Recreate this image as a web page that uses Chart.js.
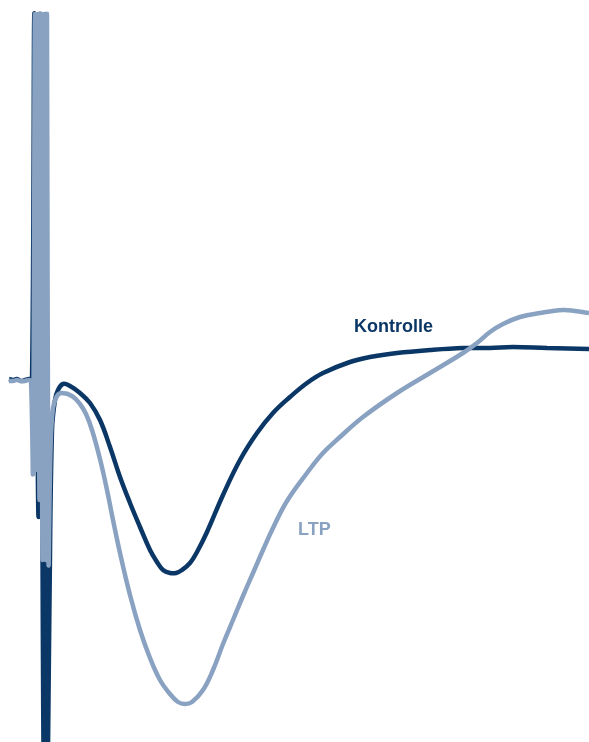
<!DOCTYPE html>
<html>
<head>
<meta charset="utf-8">
<script src="https://cdn.jsdelivr.net/npm/chart.js@4"></script>
<style>
  html, body { margin: 0; padding: 0; background: #fff; }
  #wrap { position: relative; width: 589px; height: 742px; }
  .lbl { position: absolute; font-family: 'Liberation Sans', Arial, sans-serif; font-weight: bold; font-size: 18px; line-height: 18px; white-space: nowrap; }
</style>
</head>
<body>
<div id="wrap">
  <canvas id="fieldChart"></canvas>
  <div class="lbl" style="left:354px; top:317px; color:#0b3766;">Kontrolle</div>
  <div class="lbl" style="left:298px; top:520px; color:#8aa2c2;">LTP</div>
</div>
<script>
// Field potential traces (x: sample, y: amplitude relative to baseline)
const kontrolleX = [9, 13, 17, 21, 25, 29, 32, 34.5, 38.5, 40, 44, 46.5, 47.5, 49.5, 52, 55, 58, 63, 70, 80, 90, 100, 110, 120, 130, 140, 150, 157, 163, 170, 176, 182, 190, 197, 207, 223, 240, 257, 273, 290, 307, 323, 350, 370, 397, 430, 463, 490, 513, 547, 589];
const kontrolleY = [1, 0, 1, -1, 0, 1, 0, 366, -137, 366, -400, 366, -400, -220, -50, -20, -10, -4, -6, -13, -23, -40, -67, -97, -123, -147, -170, -182, -190, -193, -193, -190, -183, -172, -152, -115, -80, -53, -33, -17, -3, 7, 18, 23, 27, 30, 32, 32, 33, 32, 31];

const ltpX = [9, 13, 17, 21, 25, 29, 31, 33, 35, 36.5, 38, 39.5, 41, 42.5, 44, 45.5, 47, 48.5, 50.5, 53, 57, 62, 72, 80, 86, 92, 100, 107, 113, 120, 130, 140, 150, 160, 170, 178, 185, 192, 203, 213, 223, 233, 243, 253, 263, 273, 287, 307, 323, 340, 363, 397, 430, 463, 477, 490, 503, 520, 540, 563, 575, 589];
const ltpY = [-1, -1, 0, -1, -1, 0, -2, -90, 366, -90, 366, -120, 366, -180, 366, -180, 366, -180, -70, -28, -16, -13, -16, -24, -34, -50, -79, -110, -140, -173, -215, -250, -278, -300, -314, -322, -324, -322, -310, -290, -264, -240, -216, -193, -170, -148, -121, -93, -73, -57, -37, -13, 7, 27, 37, 48, 56, 63, 67, 70, 69, 67];

const toPoints = (xs, ys) => xs.map((x, i) => ({ x: x, y: ys[i] }));

new Chart(document.getElementById('fieldChart'), {
    type: 'line',
    data: {
        datasets: [{
            label: 'LTP',
            data: toPoints(ltpX, ltpY),
            borderColor: '#8aa2c2',
            borderWidth: 4.5,
            borderJoinStyle: 'bevel',
            tension: 0.4,
            pointRadius: 0,
            order: 0
        }, {
            label: 'Kontrolle',
            data: toPoints(kontrolleX, kontrolleY),
            borderColor: '#0b3766',
            borderWidth: 4.5,
            borderJoinStyle: 'bevel',
            tension: 0.4,
            pointRadius: 0,
            order: 1
        }]
    },
    options: {
        animation: false,
        responsive: true,
        maintainAspectRatio: false,
        layout: { padding: 0 },
        plugins: {
            legend: { display: false },
            tooltip: { enabled: false }
        },
        scales: {
            x: { type: 'linear', min: 0, max: 589, display: false },
            y: { min: -362, max: 380, display: false }
        }
    }
});
</script>
</body>
</html>
